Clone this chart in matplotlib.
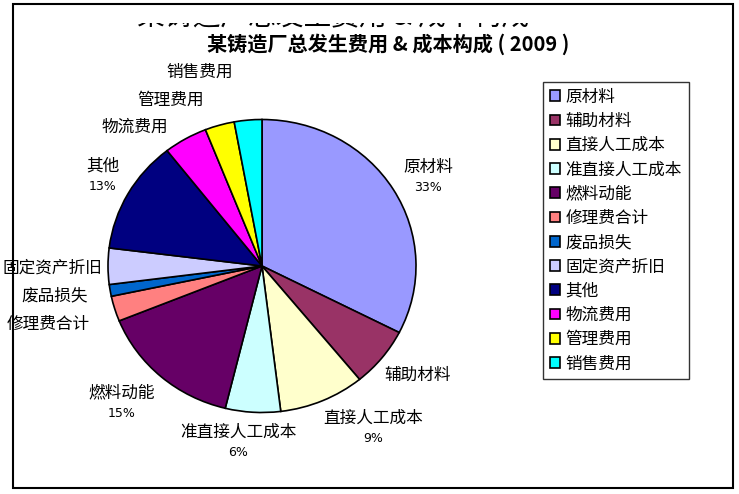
import matplotlib
matplotlib.use('Agg')
import matplotlib.pyplot as plt
from matplotlib.patches import Rectangle, Patch

plt.rcParams['font.family'] = ['Noto Sans CJK SC', 'DejaVu Sans']

W, H = 739, 494

TITLE = '某铸造厂总发生费用 & 成本构成 ( 2009 )'

categories = ['原材料', '辅助材料', '直接人工成本', '准直接人工成本', '燃料动能',
              '修理费合计', '废品损失', '固定资产折旧', '其他', '物流费用',
              '管理费用', '销售费用']
shares = [32.6, 6.6, 9.0, 5.8, 15.1, 2.8, 1.3, 4.0, 12.5, 4.6, 3.1, 2.9]
pct_text = ['33%', '', '9%', '6%', '15%', '', '', '', '13%', '', '', '']

colors = ['#9999FF', '#993366', '#FFFFCC', '#CCFFFF', '#660066', '#FF8080',
          '#0066CC', '#CCCCFF', '#000080', '#FF00FF', '#FFFF00', '#00FFFF']

# label centres (pixels from top-left)
label_xy = [(428, 167), (418, 375), (373, 418), (238, 432), (122, 393),
            (48, 324), (55, 296), (52, 268), (103, 166), (135, 127),
            (171, 100), (200, 72)]


def fx(px):
    return px / W


def fy(py):
    return 1 - py / H


fig = plt.figure(figsize=(W / 100, H / 100), dpi=100)

# pie is slightly wider than tall in the original
cx, cy, rx, ry = 262, 266, 154, 146.5
ax = fig.add_axes([fx(cx - rx), fy(cy + ry), 2 * rx / W, 2 * ry / H])
wedges, _ = ax.pie(shares, colors=colors, startangle=90, counterclock=False,
                   wedgeprops=dict(edgecolor='black', linewidth=1.2))
ax.set_aspect('auto')
ax.set_xlim(-1, 1)
ax.set_ylim(-1, 1)
ax.axis('off')
for w in wedges:
    w.set_clip_on(False)

# overlay in pixel units (y down) for the texts and the frame
ov = fig.add_axes([0, 0, 1, 1], zorder=5)
ov.set_xlim(0, W)
ov.set_ylim(H, 0)
ov.axis('off')
ov.patch.set_alpha(0)

for name, pct, (px, py) in zip(categories, pct_text, label_xy):
    ov.text(px, py, name, fontsize=12, ha='center', va='center')
    if pct:
        ov.text(px, py + 20, pct, fontsize=9, ha='center', va='center',
                family='DejaVu Sans')

ov.text(388, 44, TITLE, fontsize=14.5, fontweight='bold',
        ha='center', va='center', zorder=12)

# remains of an old title, only its bottom edge peeks out
ov.text(333, 25.5, TITLE.replace(' ( 2009 )', ''), fontsize=20,
        ha='center', va='baseline', zorder=1)
ov.add_patch(Rectangle((0, 0), W, 23.5, facecolor='white', edgecolor='none',
                       zorder=2))

# outer chart border
ov.add_patch(Rectangle((13, 4), 720, 484, fill=False, edgecolor='black',
                       linewidth=1.5, zorder=11, clip_on=False))

handles = [Patch(facecolor=c, edgecolor='black', linewidth=1.2) for c in colors]
leg = fig.legend(handles, categories, loc='upper left',
                 bbox_to_anchor=(fx(543), fy(82)), fontsize=12,
                 frameon=True, fancybox=False, edgecolor='black',
                 handlelength=0.6, handleheight=0.6, handletextpad=0.35,
                 labelspacing=0.435, borderpad=0.4, borderaxespad=0)
leg.get_frame().set_linewidth(1.0)
leg.set_zorder(20)

fig.savefig('out.png', dpi=100)
